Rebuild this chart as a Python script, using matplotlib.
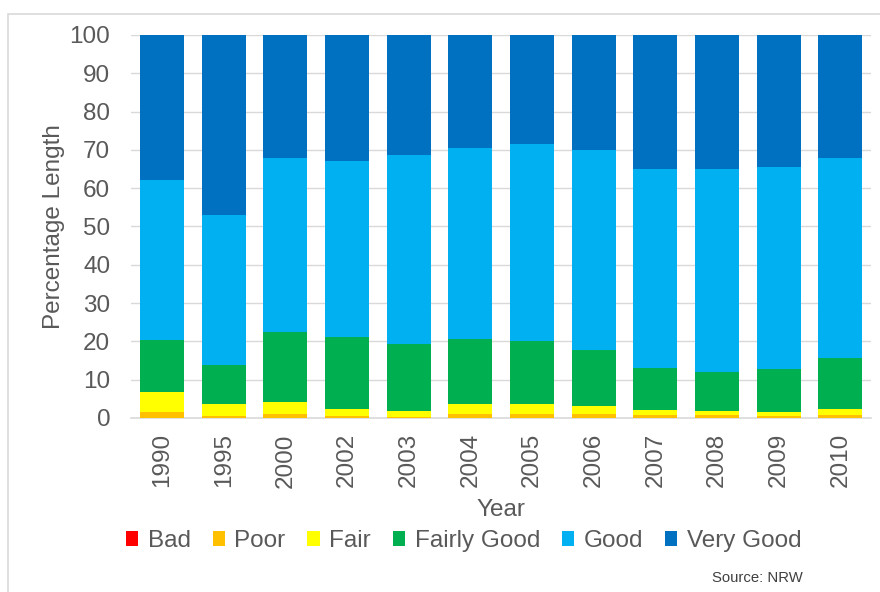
import matplotlib
matplotlib.use("Agg")
import matplotlib.pyplot as plt
from matplotlib.patches import Rectangle, Patch
import numpy as np

plt.rcParams['font.family'] = ['Liberation Sans', 'DejaVu Sans']

years = ["1990", "1995", "2000", "2002", "2003", "2004", "2005", "2006", "2007", "2008", "2009", "2010"]
categories = ["Bad", "Poor", "Fair", "Fairly Good", "Good", "Very Good"]
bad = [0.1, 0.1, 0.1, 0.1, 0.1, 0.1, 0.1, 0.1, 0.1, 0.1, 0.1, 0.1]
poor = [1.4, 0.4, 0.9, 0.3, 0.2, 0.9, 0.9, 0.9, 0.7, 0.6, 0.5, 0.6]
fair = [5.4, 3.1, 3.1, 1.9, 1.5, 2.6, 2.6, 2.0, 1.2, 1.0, 0.9, 1.6]
fairly_good = [13.5, 10.1, 18.4, 18.9, 17.6, 17.0, 16.5, 14.8, 11.1, 10.4, 11.3, 13.4]
good = [41.8, 39.3, 45.3, 45.9, 49.2, 49.8, 51.4, 52.1, 52.0, 53.0, 52.8, 52.1]
very_good = [37.8, 47.0, 32.2, 32.9, 31.4, 29.6, 28.5, 30.1, 34.9, 34.9, 34.4, 32.2]

series = [bad, poor, fair, fairly_good, good, very_good]
colors = ["#FF0000", "#FFC000", "#FFFF00", "#00B050", "#00B0F0", "#0070C0"]

FS = 17.5
fig = plt.figure(figsize=(8.8, 5.92), dpi=100)
ax = fig.add_axes([0.149, 0.294, 0.841, 0.647])

x = np.arange(len(years))
bottom = np.zeros(len(years))
for vals, c, name in zip(series, colors, categories):
    ax.bar(x, vals, bottom=bottom, width=0.71, color=c, label=name, zorder=3)
    bottom += np.array(vals)

ax.set_xlim(-0.5, len(years) - 0.5)
ax.set_ylim(0, 100)
ax.set_yticks(range(0, 101, 10))
ax.set_xticks(x)
ax.set_xticklabels(years, rotation=90)
ax.grid(axis='y', color='#D9D9D9', linewidth=1, zorder=0)
for s in ['top', 'right', 'left']:
    ax.spines[s].set_visible(False)
ax.spines['bottom'].set_color('#D9D9D9')
ax.spines['bottom'].set_linewidth(1.2)
ax.tick_params(axis='y', length=0, labelsize=FS, colors='#595959', pad=15)
ax.tick_params(axis='x', length=0, labelsize=FS, colors='#595959', pad=11)
ax.set_ylabel("Percentage Length", fontsize=FS, color='#595959')
ax.yaxis.set_label_coords(-0.09, 0.5)
ax.set_xlabel("Year", fontsize=FS, color='#595959')
ax.xaxis.set_label_coords(0.5, -0.212)

handles = [Patch(facecolor=c, edgecolor='none') for c in colors]
fig.legend(handles, categories, loc='center', bbox_to_anchor=(0.527, 0.086), ncol=6,
           frameon=False, fontsize=FS, handlelength=0.5, handleheight=0.6,
           handletextpad=0.4, columnspacing=0.9, labelcolor='#595959')

fig.text(0.9125, 0.024, "Source: NRW", fontsize=10.7, color='#404040', ha='right', va='center')

fig.patches.append(Rectangle((8 / 880, -0.05), 1.1, 1 - 14 / 592 + 0.05, transform=fig.transFigure,
                             fill=False, edgecolor='#D9D9D9', linewidth=1.2))

fig.savefig("out.png", dpi=100)
